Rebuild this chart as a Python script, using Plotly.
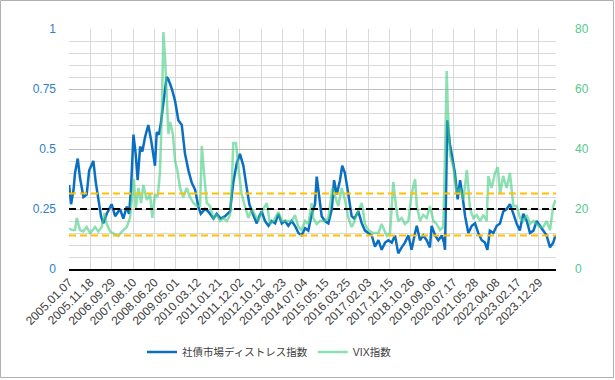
import pandas as pd
import plotly.graph_objects as go

# ---- data (decimal-year sample times) ----
dist_t = [2005.02, 2005.10, 2005.20, 2005.26, 2005.37, 2005.46, 2005.60, 2005.73, 2005.83, 2006.00,
          2006.10, 2006.20, 2006.31, 2006.40, 2006.54, 2006.74, 2006.88, 2007.08, 2007.21, 2007.35,
          2007.44, 2007.52, 2007.62, 2007.71, 2007.79, 2007.89, 2007.98, 2008.09, 2008.22, 2008.33,
          2008.41, 2008.49, 2008.56, 2008.65, 2008.73, 2008.83, 2008.90, 2008.96, 2009.03, 2009.17,
          2009.30, 2009.43, 2009.57, 2009.70, 2009.84, 2009.97, 2010.11, 2010.24, 2010.34, 2010.51,
          2010.64, 2010.78, 2010.85, 2010.98, 2011.14, 2011.32, 2011.52, 2011.65, 2011.79, 2011.92,
          2012.06, 2012.19, 2012.30, 2012.44, 2012.60, 2012.70, 2012.80, 2012.93, 2013.07, 2013.20,
          2013.34, 2013.47, 2013.61, 2013.74, 2013.87, 2014.01, 2014.14, 2014.28, 2014.41, 2014.55,
          2014.68, 2014.82, 2014.95, 2015.02, 2015.11, 2015.22, 2015.35, 2015.49, 2015.63, 2015.72,
          2015.83, 2015.96, 2016.05, 2016.16, 2016.30, 2016.43, 2016.54, 2016.63, 2016.70, 2016.84,
          2016.97, 2017.10, 2017.24, 2017.37, 2017.51, 2017.64, 2017.78, 2017.91, 2018.05, 2018.18,
          2018.31, 2018.45, 2018.58, 2018.72, 2018.85, 2018.99, 2019.06, 2019.19, 2019.32, 2019.46,
          2019.59, 2019.66, 2019.80, 2019.93, 2020.07, 2020.16, 2020.20, 2020.24, 2020.29, 2020.40,
          2020.49, 2020.60, 2020.71, 2020.81, 2020.90, 2021.01, 2021.14, 2021.28, 2021.41, 2021.54,
          2021.68, 2021.81, 2021.91, 2022.01, 2022.15, 2022.29, 2022.42, 2022.55, 2022.69, 2022.82,
          2022.96, 2023.09, 2023.22, 2023.36, 2023.50, 2023.63, 2023.77, 2023.90, 2024.03, 2024.17,
          2024.30, 2024.44, 2024.57, 2024.66]
dist_v = [0.35, 0.27, 0.33, 0.40, 0.46, 0.38, 0.30, 0.31, 0.41, 0.45,
          0.36, 0.29, 0.22, 0.19, 0.23, 0.27, 0.22, 0.25, 0.21, 0.26,
          0.23, 0.33, 0.56, 0.48, 0.37, 0.51, 0.49, 0.55, 0.60, 0.54,
          0.48, 0.43, 0.57, 0.56, 0.61, 0.70, 0.76, 0.80, 0.79, 0.75,
          0.70, 0.62, 0.60, 0.48, 0.41, 0.36, 0.33, 0.26, 0.23, 0.25,
          0.24, 0.22, 0.21, 0.23, 0.21, 0.22, 0.24, 0.36, 0.44, 0.48,
          0.43, 0.34, 0.27, 0.23, 0.19, 0.22, 0.24, 0.20, 0.18, 0.20,
          0.19, 0.23, 0.19, 0.20, 0.18, 0.20, 0.18, 0.15, 0.14, 0.17,
          0.16, 0.23, 0.27, 0.385, 0.30, 0.22, 0.20, 0.19, 0.25, 0.37,
          0.31, 0.37, 0.43, 0.40, 0.31, 0.22, 0.21, 0.23, 0.24, 0.19,
          0.16, 0.15, 0.14, 0.093, 0.12, 0.08, 0.11, 0.12, 0.11, 0.14,
          0.065, 0.09, 0.11, 0.14, 0.08, 0.15, 0.18, 0.12, 0.14, 0.12,
          0.09, 0.18, 0.14, 0.12, 0.14, 0.11, 0.08, 0.30, 0.62, 0.52,
          0.47, 0.40, 0.29, 0.37, 0.31, 0.22, 0.15, 0.18, 0.19, 0.15,
          0.12, 0.11, 0.08, 0.16, 0.15, 0.18, 0.19, 0.24, 0.25, 0.27,
          0.23, 0.19, 0.16, 0.23, 0.20, 0.15, 0.16, 0.20, 0.18, 0.16,
          0.14, 0.09, 0.11, 0.14]

vix_t = [2005.02, 2005.14, 2005.26, 2005.33, 2005.46, 2005.59, 2005.73, 2005.87, 2006.07, 2006.20,
         2006.34, 2006.45, 2006.54, 2006.68, 2006.88, 2007.01, 2007.15, 2007.35, 2007.48, 2007.58,
         2007.64, 2007.71, 2007.82, 2007.93, 2008.02, 2008.16, 2008.29, 2008.38, 2008.49, 2008.60,
         2008.69, 2008.76, 2008.83, 2008.90, 2008.96, 2009.03, 2009.10, 2009.21, 2009.30, 2009.39,
         2009.50, 2009.63, 2009.77, 2009.90, 2010.04, 2010.18, 2010.31, 2010.38, 2010.47, 2010.58,
         2010.71, 2010.85, 2010.98, 2011.12, 2011.25, 2011.39, 2011.52, 2011.59, 2011.65, 2011.76,
         2011.85, 2011.99, 2012.12, 2012.26, 2012.40, 2012.53, 2012.66, 2012.80, 2013.00, 2013.13,
         2013.27, 2013.47, 2013.61, 2013.81, 2014.01, 2014.14, 2014.28, 2014.41, 2014.55, 2014.68,
         2014.82, 2014.88, 2015.02, 2015.15, 2015.35, 2015.49, 2015.65, 2015.89, 2016.03, 2016.16,
         2016.30, 2016.43, 2016.50, 2016.63, 2016.84, 2016.97, 2017.10, 2017.30, 2017.51, 2017.64,
         2017.85, 2017.98, 2018.11, 2018.22, 2018.31, 2018.45, 2018.58, 2018.72, 2018.85, 2018.99,
         2019.06, 2019.19, 2019.32, 2019.46, 2019.59, 2019.73, 2019.86, 2020.00, 2020.13, 2020.20,
         2020.27, 2020.31, 2020.40, 2020.54, 2020.67, 2020.81, 2020.94, 2021.08, 2021.21, 2021.34,
         2021.48, 2021.61, 2021.75, 2021.88, 2021.95, 2022.08, 2022.22, 2022.33, 2022.42, 2022.55,
         2022.69, 2022.82, 2022.96, 2023.09, 2023.23, 2023.36, 2023.50, 2023.63, 2023.77, 2023.90,
         2024.03, 2024.17, 2024.30, 2024.44, 2024.57, 2024.66]
vix_v = [13.5, 13, 13, 17, 13, 12.5, 14, 12, 14, 12.5,
         14, 18.7, 15, 12.5, 11.5, 11, 12.5, 14, 17, 25,
         30, 20, 27, 22, 28, 23, 25, 17, 25, 24,
         32, 50, 79, 70, 58, 45, 49, 45, 36, 33,
         27, 24, 27, 24, 22, 21, 21, 41, 32, 22,
         21, 17, 18, 16, 17, 16, 18, 28, 42, 42,
         34, 25, 21, 17, 20, 18, 16, 19, 22, 15,
         16, 19, 16, 16, 16, 18, 14, 13, 16, 15,
         22, 17, 15, 16, 16, 17, 27, 21, 27, 23,
         17, 14, 15, 18, 22, 15, 13, 12, 12, 15,
         11, 12, 29, 21, 16, 17, 15, 16, 25, 30,
         21, 16, 18, 17, 21, 16, 15, 13, 14, 38,
         66, 54, 38, 34, 25, 27, 23, 33, 20, 17,
         18, 16, 18, 16, 31, 27, 32, 34, 25, 31,
         27, 32, 21, 21, 17, 16, 18, 15, 16, 15,
         14, 14, 16, 13, 21, 23]

tick_labels = ["2005.01.07", "2005.11.18", "2006.09.29", "2007.08.10", "2008.06.20", "2009.05.01",
               "2010.03.12", "2011.01.21", "2011.12.02", "2012.10.12", "2013.08.23", "2014.07.04",
               "2015.05.15", "2016.03.25", "2017.02.03", "2017.12.15", "2018.10.26", "2019.09.06",
               "2020.07.17", "2021.05.28", "2022.04.08", "2023.02.17", "2023.12.29"]
x_start = "2005-01-07"
x_end = "2024-09-06"

ref_mid = 0.25
ref_upper = 0.315
ref_lower = 0.14

name_dist = "社債市場ディストレス指数"
name_vix = "VIX指数"


def yr2dt(y):
    yr = int(y)
    return pd.Timestamp(yr, 1, 1) + pd.Timedelta(days=(y - yr) * 365.25)


dist_x = [yr2dt(t) for t in dist_t]
vix_x = [yr2dt(t) for t in vix_t]
tick_vals = [pd.Timestamp(s.replace(".", "-")) for s in tick_labels]

FONT = "Liberation Sans, Arial, Noto Sans CJK JP, sans-serif"
PL, PR, PT, PB = 69, 556, 29, 269
PW, PH = PR - PL, PB - PT

fig = go.Figure()
fig.add_trace(go.Scatter(x=dist_x, y=dist_v, name=name_dist, mode="lines",
                         line=dict(color="#0a6fc2", width=2.5), yaxis="y"))
fig.add_trace(go.Scatter(x=vix_x, y=vix_v, name=name_vix, mode="lines",
                         line=dict(color="rgba(70,205,130,0.62)", width=2.5), yaxis="y2"))

for val, col in [(ref_upper, "#ffc000"), (ref_lower, "#ffc000"), (ref_mid, "#000000")]:
    fig.add_shape(type="line", xref="paper", x0=0, x1=1, yref="y", y0=val, y1=val,
                  line=dict(color=col, width=2, dash="7px,4px"), layer="above")

# outer border of the chart image
fig.add_shape(type="rect", xref="paper", yref="paper",
              x0=(0.5 - PL) / PW, x1=(613.5 - PL) / PW,
              y0=-(377.5 - PB) / PH, y1=(PB - 0.5) / PH,
              line=dict(color="#b0b0b0", width=1), layer="below")

fig.update_layout(
    width=615, height=380,
    margin=dict(l=PL, r=615 - PR, t=PT, b=380 - PB),
    paper_bgcolor="white", plot_bgcolor="white",
    font=dict(family=FONT, size=12, color="#404040"),
    showlegend=True,
    legend=dict(orientation="h", x=(142 - PL) / PW, xanchor="left",
                y=-(352 - PB) / PH, yanchor="middle",
                font=dict(size=10.5, color="#404040"), itemwidth=30,
                tracegroupgap=0, bgcolor="rgba(0,0,0,0)"),
    xaxis=dict(type="date", range=[x_start, x_end], tickvals=tick_vals, ticktext=tick_labels,
               tickangle=-45, showgrid=True, gridcolor="#d9d9d9", gridwidth=1,
               showline=True, linecolor="#000000", linewidth=1.5, ticks="",
               tickfont=dict(size=12, color="#404040"), zeroline=False),
    yaxis=dict(range=[0, 1], tickvals=[0, 0.25, 0.5, 0.75, 1],
               ticktext=["0", "0.25", "0.5", "0.75", "1"],
               showgrid=True, gridcolor="#bfbfbf", gridwidth=1, zeroline=False,
               minor=dict(dtick=0.05, showgrid=True, gridcolor="#d9d9d9", gridwidth=1),
               tickfont=dict(size=12, color="#2f7ec8"), ticks="", ticklabelstandoff=12,
               fixedrange=True),
    yaxis2=dict(range=[0, 80], overlaying="y", side="right", showgrid=False, zeroline=False,
                tickvals=[0, 20, 40, 60, 80], ticktext=["0", "20", "40", "60", "80"],
                tickfont=dict(size=12, color="#56c98a"), ticks="", ticklabelstandoff=18),
)

fig.write_html("out.html", config={"displayModeBar": False},
               post_script="document.body.style.margin='0';")
